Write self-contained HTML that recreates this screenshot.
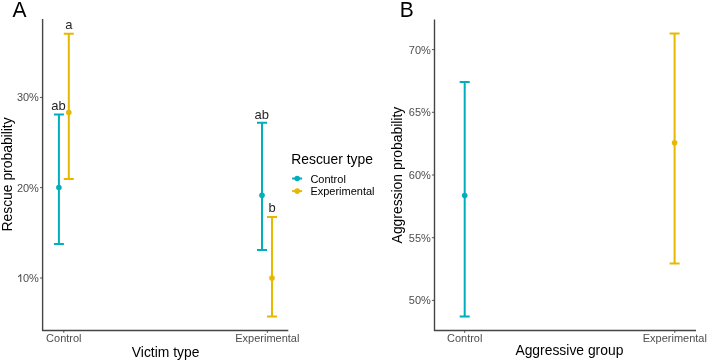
<!DOCTYPE html>
<html><head><meta charset="utf-8">
<style>
html,body{margin:0;padding:0;background:#fff;width:708px;height:361px;overflow:hidden}
svg{display:block;will-change:transform}
text{font-family:"Liberation Sans",sans-serif}
.tk{font-size:11px;fill:#4d4d4d}
.ti{font-size:13.9px;fill:#000}
.tag{font-size:21px;fill:#000}
.lab{font-size:13px;fill:#262626}
.lg{font-size:11px;fill:#000}
.ax{stroke:#454545;stroke-width:1.4;fill:none}
.tm{stroke:#444444;stroke-width:0.9;fill:none}
.t{stroke:#00AFBB;stroke-width:2;fill:none}
.y{stroke:#E7B800;stroke-width:2;fill:none}
</style></head>
<body>
<svg width="708" height="361" viewBox="0 0 708 361">
<text class="tag" transform="translate(12.6 16.7) scale(1 1.035)">A</text>
<path class="ax" d="M42.6 19V331.1M42.0 330.5H288.3"/>
<text class="tk" transform="translate(38.9 101.35) scale(1 1.035)" text-anchor="end">30%</text>
<text class="tk" transform="translate(38.9 191.5) scale(1 1.035)" text-anchor="end">20%</text>
<text class="tk" transform="translate(38.9 281.9) scale(1 1.035)" text-anchor="end">0%</text>
<path d="M20.75 274.15V281.90M20.9 274.30Q19.9 276.00 18.1 276.70" stroke="#4d4d4d" stroke-width="1.05" fill="none"/>
<text class="tk" transform="translate(63.8 342.2) scale(1 1.035)" text-anchor="middle">Control</text>
<text class="tk" transform="translate(267.3 342.2) scale(1 1.035)" text-anchor="middle">Experimental</text>
<path class="tm" d="M40.0 97.45H42.6M40.0 187.6H42.6M40.0 278.0H42.6M63.8 330.5V332.9M267.3 330.5V332.9"/>
<text class="ti" transform="translate(165.6 356.7) scale(1 1.035)" text-anchor="middle">Victim type</text>
<text class="ti" transform="translate(12.0 174.45) rotate(-90) scale(1 1.035)" text-anchor="middle">Rescue probability</text>
<path class="t" d="M58.9 114.5V243.9M53.9 114.5H63.9M53.9 243.9H63.9"/>
<circle cx="58.9" cy="187.5" r="2.8" fill="#00AFBB"/>
<path class="y" d="M68.8 33.7V178.9M63.8 33.7H73.8M63.8 178.9H73.8"/>
<circle cx="68.8" cy="112.5" r="2.8" fill="#E7B800"/>
<path class="t" d="M262.0 122.8V250.1M257.0 122.8H267.0M257.0 250.1H267.0"/>
<circle cx="262.0" cy="195.3" r="2.8" fill="#00AFBB"/>
<path class="y" d="M272.0 217.0V316.6M267.0 217.0H277.0M267.0 316.6H277.0"/>
<circle cx="272.0" cy="278.1" r="2.8" fill="#E7B800"/>
<text class="lab" transform="translate(68.8 28.7) scale(1 1.035)" text-anchor="middle">a</text>
<text class="lab" transform="translate(58.6 110.0) scale(1 1.035)" text-anchor="middle">ab</text>
<text class="lab" transform="translate(261.8 118.8) scale(1 1.035)" text-anchor="middle">ab</text>
<text class="lab" transform="translate(272.2 212.3) scale(1 1.035)" text-anchor="middle">b</text>
<text class="ti" transform="translate(291.2 163.9) scale(1 1.035)">Rescuer type</text>
<path class="t" d="M292.1 178.5H302.1"/>
<circle cx="297.2" cy="178.5" r="2.8" fill="#00AFBB"/>
<path class="y" d="M292.1 191.1H302.1"/>
<circle cx="297.2" cy="191.1" r="2.8" fill="#E7B800"/>
<text class="lg" transform="translate(310.4 182.9) scale(1 1.035)">Control</text>
<text class="lg" transform="translate(310.4 195.3) scale(1 1.035)">Experimental</text>
<text class="tag" transform="translate(399.7 16.6) scale(1 1.035)">B</text>
<path class="ax" d="M434.5 19.6V331.1M433.9 330.5H696"/>
<text class="tk" transform="translate(430.8 304.3) scale(1 1.035)" text-anchor="end">50%</text>
<text class="tk" transform="translate(430.8 241.6) scale(1 1.035)" text-anchor="end">55%</text>
<text class="tk" transform="translate(430.8 178.9) scale(1 1.035)" text-anchor="end">60%</text>
<text class="tk" transform="translate(430.8 116.2) scale(1 1.035)" text-anchor="end">65%</text>
<text class="tk" transform="translate(430.8 53.5) scale(1 1.035)" text-anchor="end">70%</text>
<text class="tk" transform="translate(464.7 342.2) scale(1 1.035)" text-anchor="middle">Control</text>
<text class="tk" transform="translate(674.8 342.2) scale(1 1.035)" text-anchor="middle">Experimental</text>
<path class="tm" d="M431.9 300.4H434.5M431.9 237.7H434.5M431.9 175.0H434.5M431.9 112.3H434.5M431.9 49.6H434.5M464.7 330.5V332.9M674.8 330.5V332.9"/>
<text class="ti" transform="translate(569.4 355.0) scale(1 1.035)" text-anchor="middle">Aggressive group</text>
<text class="ti" transform="translate(402.2 175.1) rotate(-90) scale(1 1.035)" text-anchor="middle">Aggression probability</text>
<path class="t" d="M464.7 82.1V316.5M459.7 82.1H469.7M459.7 316.5H469.7"/>
<circle cx="464.7" cy="195.5" r="2.8" fill="#00AFBB"/>
<path class="y" d="M674.6 33.5V263.5M669.6 33.5H679.6M669.6 263.5H679.6"/>
<circle cx="674.6" cy="142.7" r="2.8" fill="#E7B800"/>
</svg>
</body></html>
